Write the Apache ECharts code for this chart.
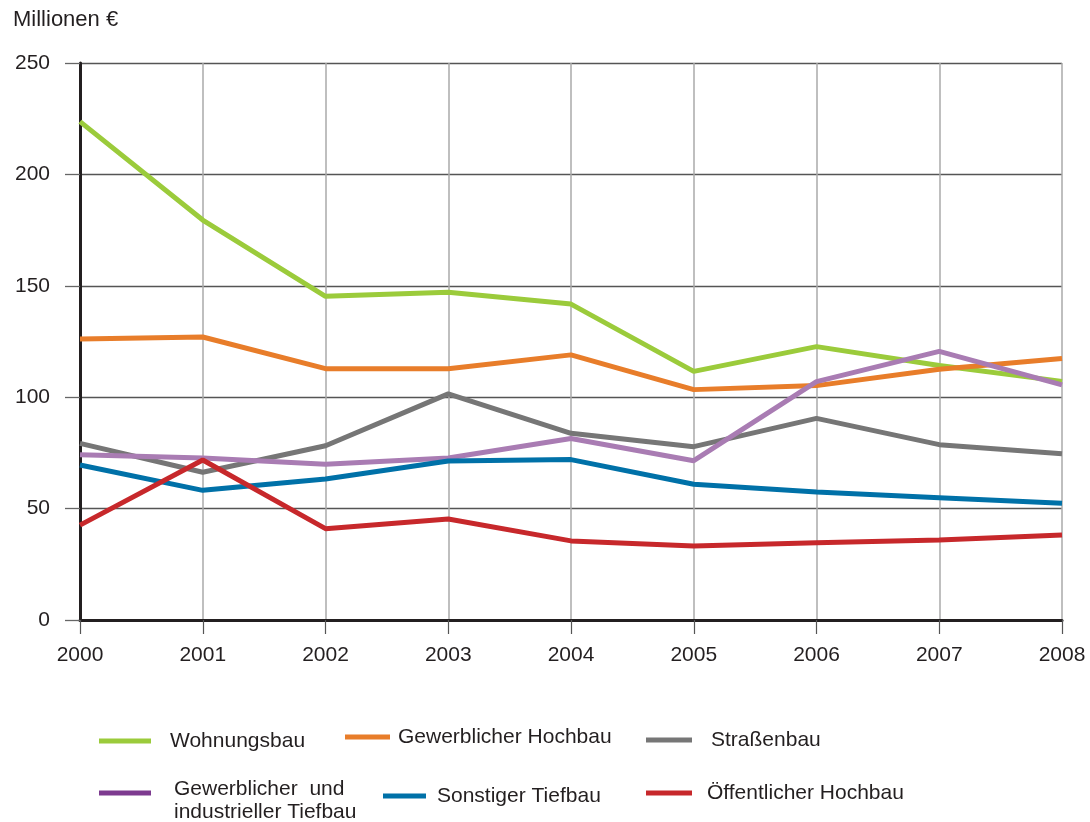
<!DOCTYPE html>
<html>
<head>
<meta charset="utf-8">
<script src="https://cdn.jsdelivr.net/npm/echarts@6/dist/echarts.min.js"></script>
<style>
html,body{margin:0;padding:0;background:#fff;}
#chart{width:1090px;height:822px;}
</style>
</head>
<body>
<div id="chart"></div>
<script>
var years = ['2000','2001','2002','2003','2004','2005','2006','2007','2008'];
var seriesNames = ['Wohnungsbau','Gewerblicher Hochbau','Straßenbau','Gewerblicher  und industrieller Tiefbau','Sonstiger Tiefbau','Öffentlicher Hochbau'];
var wohnungsbau = [223.7, 179.5, 145.3, 147.1, 141.8, 111.6, 122.7, 114.2, 107.1];
var gewerblicherHochbau = [126.1, 127.0, 112.8, 112.8, 119.0, 103.4, 105.2, 112.5, 117.4];
var strassenbau = [79.3, 66.3, 78.2, 101.5, 83.8, 77.8, 90.5, 78.7, 74.6];
var gewIndTiefbau = [74.2, 72.7, 69.9, 72.7, 81.5, 71.5, 107.0, 120.6, 105.5];
var sonstigerTiefbau = [69.6, 58.2, 63.3, 71.4, 72.0, 60.9, 57.4, 54.9, 52.4];
var oeffentlicherHochbau = [42.6, 71.8, 41.0, 45.3, 35.5, 33.2, 34.7, 35.9, 38.2];
var yTicks = [0, 50, 100, 150, 200, 250];

var colors = ['#9BCB3B', '#E87D2A', '#767676', '#A97CB3', '#0071A8', '#C7282B'];
var legendColors = ['#9BCB3B', '#E87D2A', '#767676', '#7D3A8F', '#0071A8', '#C7282B'];
var values = [wohnungsbau, gewerblicherHochbau, strassenbau, gewIndTiefbau, sonstigerTiefbau, oeffentlicherHochbau];

var FONT = 'Liberation Sans, Arial, sans-serif';
var TXT = '#231F20';

var legendLayout = [
  {left: 99, top: 729.5, w: 52, pad: [0,0,0,14]},
  {left: 345, top: 725.5, w: 45, pad: [0,0,0,3]},
  {left: 646, top: 728.5, w: 46, pad: [0,0,0,14]},
  {left: 99, top: 762.5, w: 52, pad: [0,0,0,18]},
  {left: 383, top: 784.5, w: 43, pad: [0,0,0,6]},
  {left: 646, top: 781.5, w: 46, pad: [0,0,0,10]}
];

var legends = seriesNames.map(function (n, i) {
  var L = legendLayout[i];
  return {
    show: true,
    left: L.left,
    top: L.top,
    padding: 0,
    itemGap: 0,
    itemWidth: L.w,
    itemHeight: 5,
    icon: 'rect',
    selectedMode: false,
    data: [{name: n, itemStyle: {color: legendColors[i]}}],
    formatter: function (name) {
      if (name === seriesNames[3]) return '{e| }\n{a|Gewerblicher  und}\n{a|industrieller Tiefbau}';
      return name;
    },
    textStyle: {
      fontSize: 21, fontFamily: FONT, color: TXT, lineHeight: 23, padding: L.pad,
      rich: {
        e: {fontSize: 10, lineHeight: 15, fontFamily: FONT},
        a: {fontSize: 21, lineHeight: 23, fontFamily: FONT, color: TXT}
      }
    }
  };
});

var series = seriesNames.map(function (n, i) {
  return {
    name: n,
    type: 'line',
    data: values[i],
    symbol: 'none',
    smooth: false,
    color: colors[i],
    lineStyle: {width: 5, color: colors[i]},
    z: 3
  };
});

var chart = echarts.init(document.getElementById('chart'), null, {renderer: 'canvas'});
chart.setOption({
  animation: false,
  backgroundColor: '#ffffff',
  title: {
    text: 'Millionen €',
    left: 13, top: 9, padding: 0,
    textStyle: {fontSize: 22, fontWeight: 'normal', fontFamily: FONT, color: TXT}
  },
  legend: legends,
  grid: {left: 80, right: 28, top: 63, bottom: 202, containLabel: false},
  xAxis: {
    type: 'category',
    data: years,
    boundaryGap: false,
    axisLine: {show: true, lineStyle: {color: '#231F20', width: 3}},
    axisTick: {show: true, length: 14, lineStyle: {color: '#555555', width: 1.2}},
    splitLine: {show: true, lineStyle: {color: '#AAAAAA', width: 1.5}},
    axisLabel: {fontSize: 21, fontFamily: FONT, color: TXT, margin: 25}
  },
  yAxis: {
    type: 'value',
    min: yTicks[0],
    max: yTicks[yTicks.length - 1],
    interval: 50,
    axisLine: {show: true, lineStyle: {color: '#231F20', width: 3}},
    axisTick: {show: true, length: 15, lineStyle: {color: '#666666', width: 1.3}},
    splitLine: {show: true, lineStyle: {color: '#555555', width: 1.3}},
    axisLabel: {fontSize: 21, fontFamily: FONT, color: TXT, margin: 30}
  },
  series: series
});
</script>
</body>
</html>
